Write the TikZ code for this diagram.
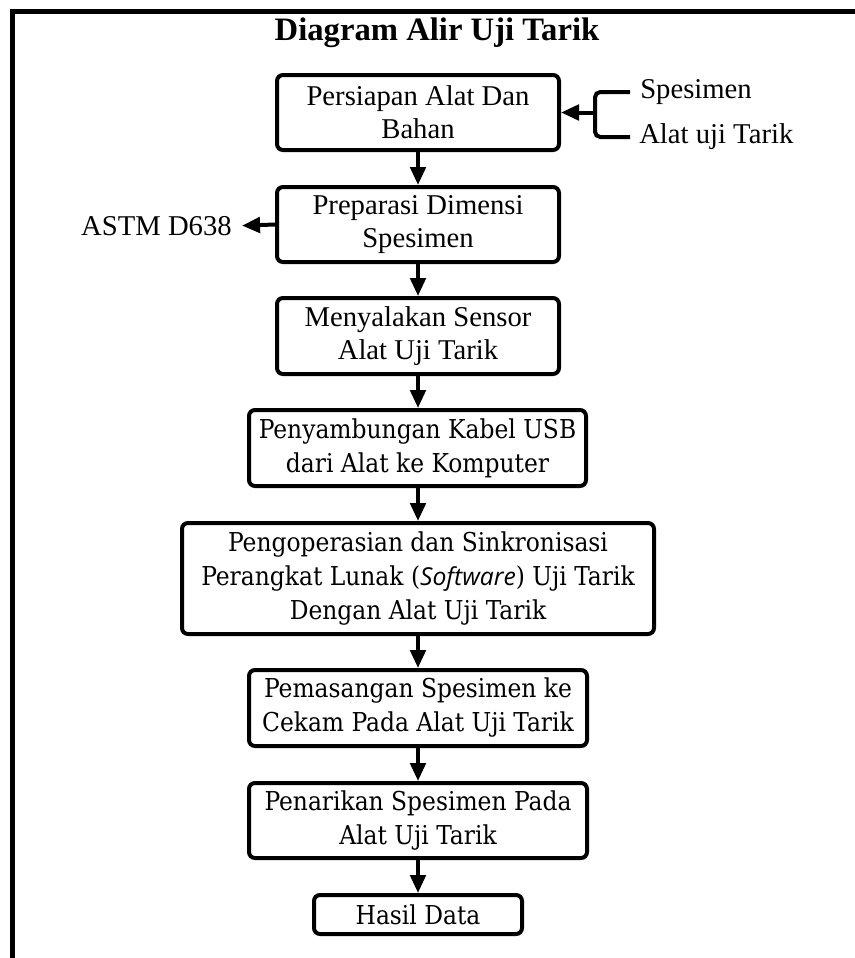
\documentclass[tikz,border=0pt]{standalone}
\usepackage{fontspec}
\setmainfont{Liberation Serif}
\newfontfamily\bodyserif{DejaVu Serif Condensed}
\newfontfamily\sansital{Open Sans}
\usetikzlibrary{arrows.meta}
\begin{document}
\begin{tikzpicture}[x=0.75pt,y=-0.75pt,
  box/.style={draw, line width=3pt, rounded corners=4.5pt, align=center, inner sep=0pt, anchor=center},
  tbox/.style={box, font=\fontsize{21.5pt}{24.75pt}\selectfont},
  dbox/.style={box, font=\bodyserif\fontsize{19.5pt}{25.5pt}\selectfont},
  lbl/.style={inner sep=0pt, font=\fontsize{21.5pt}{24.75pt}\selectfont},
  flow/.style={line width=3pt, -{Triangle[length=13.5pt,width=11.5pt]}},
  bracket/.style={line width=3pt, rounded corners=4pt},
  ]
\useasboundingbox (0,0) rectangle (855,958);
\draw[line width=3.75pt] (12.5,958) -- (12.5,11.5) -- (855,11.5);

\node[inner sep=0pt, font=\bfseries\fontsize{24.5pt}{28pt}\selectfont] (title) at (437,33) {Diagram Alir Uji Tarik};

\node[tbox, minimum width=211.5pt, minimum height=56.25pt] (b1) at (418,112.5) {Persiapan Alat Dan\\Bahan};
\node[tbox, minimum width=211.5pt, minimum height=56.25pt] (b2) at (418,224.5) {Preparasi Dimensi\\Spesimen};
\node[tbox, minimum width=211.5pt, minimum height=57pt] (b3) at (418,336) {Menyalakan Sensor\\Alat Uji Tarik};
\node[dbox, minimum width=252.75pt, minimum height=57pt] (b4) at (417.5,448) {Penyambungan Kabel USB\\dari Alat ke Komputer};
\node[dbox, minimum width=354pt, minimum height=83.25pt] (b5) at (418,578.5) {Pengoperasian dan Sinkronisasi\\Perangkat Lunak ({\sansital\itshape\fontsize{18.5pt}{20pt}\selectfont Software}) Uji Tarik\\Dengan Alat Uji Tarik};
\node[dbox, minimum width=253.5pt, minimum height=57pt] (b6) at (418,708) {Pemasangan Spesimen ke\\Cekam Pada Alat Uji Tarik};
\node[dbox, minimum width=253.5pt, minimum height=56.25pt] (b7) at (418,820.5) {Penarikan Spesimen Pada\\Alat Uji Tarik};
\node[dbox, minimum width=156pt, minimum height=29.25pt] (b8) at (418,914.5) {Hasil Data};

\node[lbl] (astm) at (156.5,226) {ASTM D638};
\node[lbl, anchor=west] (spes) at (640,92) {Spesimen};
\node[lbl, anchor=west] (alat) at (639,137) {Alat uji Tarik};
\coordinate (brk) at (595,112.5);

\draw[flow] (b1) -- (b2);
\draw[flow] (b2) -- (b3);
\draw[flow] (b3) -- (b4.north -| b3.south);
\draw[flow] (b4.south -| b3.south) -- (b5);
\draw[flow] (b5) -- (b6);
\draw[flow] (b6) -- (b7);
\draw[flow] (b7) -- (b8);
\draw[flow, shorten >=7.5pt] (b2.west) -- (astm.east);
\draw[bracket] ([xshift=-7.5pt]spes.west) -| (brk) |- ([xshift=-6.75pt]alat.west);
\draw[flow] (brk) -- (b1.east |- brk);
\end{tikzpicture}
\end{document}
